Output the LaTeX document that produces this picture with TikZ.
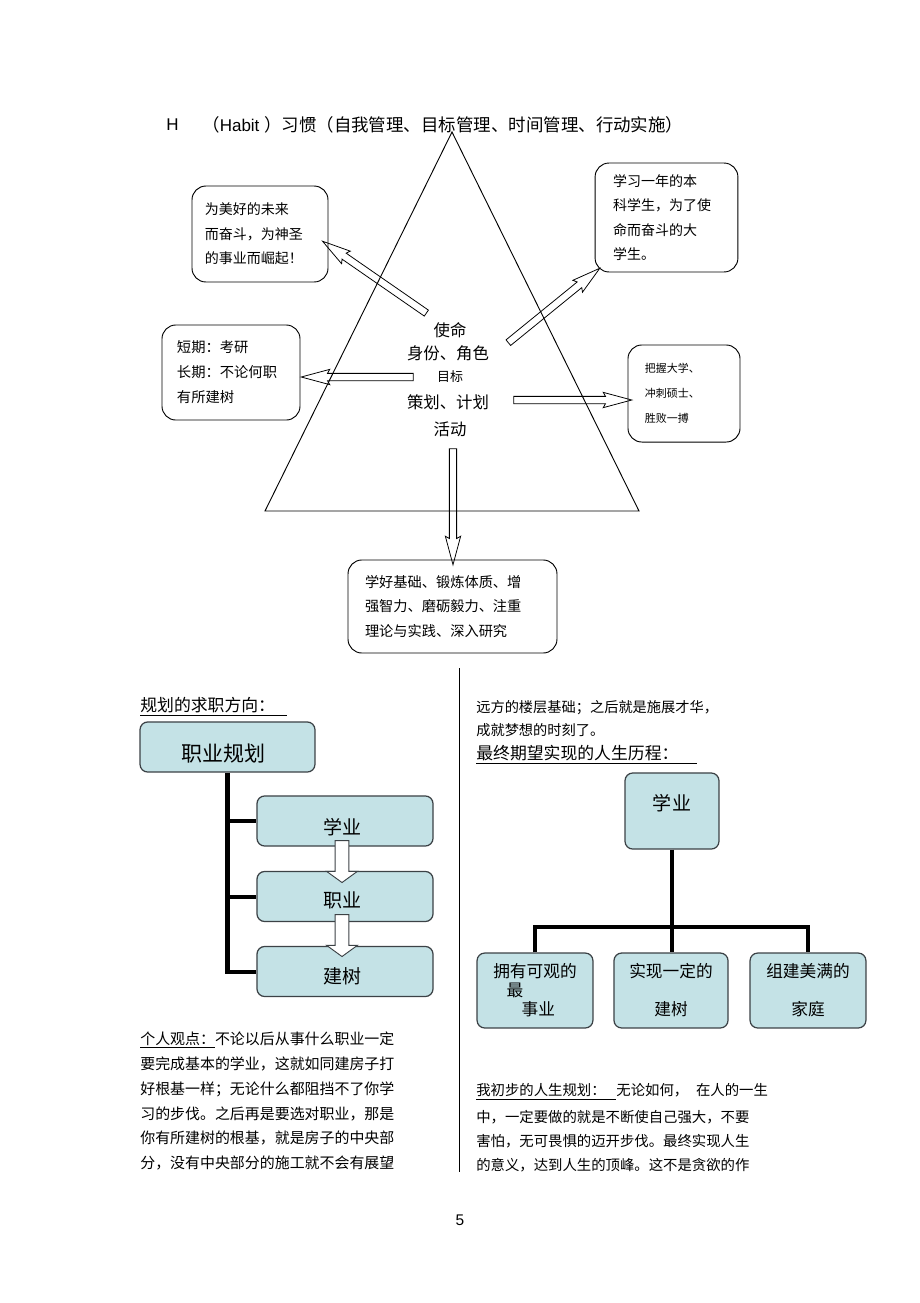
\documentclass[tikz,border=0pt]{standalone}
\usepackage{fontspec}
\setmainfont{Liberation Sans}
\newfontfamily\cjk{Noto Sans CJK SC}
\usetikzlibrary{shapes.arrows,calc,positioning}
\definecolor{planfill}{RGB}{196,226,230}
\definecolor{planedge}{RGB}{60,66,70}

\newcommand\fatarrow[3][]{%
  \path let \p1=(#2), \p2=(#3) in
    node[hollow,#1,minimum height={veclen(\x2-\x1,\y2-\y1)},
         rotate={atan2(\y2-\y1,\x2-\x1)}] at ($(#2)!0.5!(#3)$) {};}

\begin{document}
\begin{tikzpicture}[x=0.647pt,y=-0.647pt,
  bubble/.style={draw,line width=0.6pt,rounded corners=9pt,align=left,inner ysep=0pt,
                 font=\cjk\fontsize{9.06}{15.9}\selectfont},
  core/.style={inner sep=0pt,font=\cjk\fontsize{10.6}{12}\selectfont},
  hollow/.style={single arrow,draw,line width=0.5pt,inner xsep=0pt,inner ysep=2.1pt,
                 single arrow head extend=2.6pt,single arrow tip angle=30,single arrow head indent=1.5pt},
  plan/.style={draw=planedge,fill=planfill,line width=0.8pt,rounded corners=5pt},
  planfont/.style={font=\cjk\fontsize{12.3}{14}\selectfont},
  lifefont/.style={font=\cjk\fontsize{10.8}{12.3}\selectfont},
  drop/.style={draw=planedge,fill=white,line width=0.6pt,inner ysep=4.2pt,
               single arrow head extend=5.5pt,single arrow tip angle=108,single arrow head indent=0pt},
  trunk/.style={line width=2.6pt},
  txtline/.style={anchor=west,inner sep=0pt,font=\cjk\fontsize{9.67}{12}\selectfont}]
\useasboundingbox (0,0) rectangle (920,1303);

\node[anchor=west,inner sep=0pt,font=\fontsize{11}{12}\selectfont] (h) at (166,125) {H};
\node[anchor=west,inner sep=0pt,font=\fontsize{11}{12}\selectfont] (habit) at (202,125)
  {{\cjk\fontsize{11.3}{12}\selectfont （}Habit {\cjk\fontsize{11.3}{12}\selectfont ）习惯（自我管理、目标管理、时间管理、行动实施）}};

\coordinate (apex) at (452,132);
\coordinate (bl) at (265,511);
\coordinate (br) at (639,511);
\draw[line width=0.6pt] (apex) -- (bl) -- (br) -- cycle;

\node[core] (mission) at (450,330) {使命};
\node[core] (role) at (448,353) {身份、角色};
\node[core,font=\cjk\fontsize{8.4}{10}\selectfont] (goal) at (450,377) {目标};
\node[core] (scheme) at (448,402) {策划、计划};
\node[core] (act) at (450,429) {活动};

\node[bubble,inner xsep=8.4pt,text width=71.2pt,minimum height=62.1pt] (future) at (260,234)
  {为美好的未来\\而奋斗，为神圣\\的事业而崛起！};
\node[bubble,inner xsep=11.6pt,text width=69.2pt,minimum height=70.5pt] (student) at (666.5,217.5)
  {学习一年的本\\科学生，为了使\\命而奋斗的大\\学生。};
\node[bubble,inner xsep=9.7pt,text width=69.9pt,minimum height=61.5pt,
      font=\cjk\fontsize{9.25}{16.2}\selectfont] (term) at (231,372.5)
  {短期：考研\\长期：不论何职\\有所建树};
\node[bubble,inner xsep=11pt,text width=50.5pt,minimum height=62.8pt,
      font=\cjk\fontsize{7.1}{16.2}\selectfont] (strive) at (684,393.5)
  {把握大学、\\冲刺硕士、\\胜败一搏};
\node[bubble,inner xsep=11pt,text width=113.2pt,minimum height=60.2pt,
      font=\cjk\fontsize{9.2}{15.9}\selectfont] (basics) at (452.5,606.5)
  {学好基础、锻炼体质、增\\强智力、磨砺毅力、注重\\理论与实践、深入研究};

\coordinate (s1) at (432,317);
\coordinate (e1) at (328,245);
\coordinate (s2) at (503,347);
\coordinate (s3) at (420,377);
\coordinate (e3) at (308,377);
\coordinate (s4) at (507,400);
\coordinate (e4) at (625,400);
\coordinate (s5) at (453,442);
\coordinate (e5) at (453,558);
\fatarrow{s1}{e1}
\fatarrow{s2}{student.south west}
\fatarrow{s3}{e3}
\fatarrow{s4}{e4}
\fatarrow{s5}{e5}

\draw[line width=0.6pt] (459,668) -- (459,1172);

\node[txtline,font=\cjk\fontsize{10.9}{12}\selectfont] (quest) at (140,707)
  {\underline{规划的求职方向：\hspace*{8pt}}};

\node[plan,minimum width=113.2pt,minimum height=32.4pt,
      label={[font=\cjk\fontsize{13.6}{15}\selectfont,xshift=-2.6pt,yshift=-3.9pt]center:职业规划}] (career) at (227.5,747) {};
\node[plan,minimum width=113.9pt,minimum height=32.4pt,
      label={[planfont,xshift=-1.9pt,yshift=-3.9pt]center:学业}] (study) at (345,821) {};
\node[plan,minimum width=113.9pt,minimum height=32.4pt,
      label={[planfont,xshift=-1.9pt,yshift=-2.3pt]center:职业}] (job) at (345,896.5) {};
\node[plan,minimum width=113.9pt,minimum height=32.4pt,
      label={[planfont,xshift=-1.9pt,yshift=-2.9pt]center:建树}] (build) at (345,971.5) {};

\draw[trunk] (career.south) |- (build.west);
\draw[trunk] (career.south |- study.west) -- (study.west);
\draw[trunk] (career.south |- job.west) -- (job.west);

\coordinate (d1s) at (342,838);
\coordinate (d1e) at (342,880);
\coordinate (d2s) at (342,912);
\coordinate (d2e) at (342,954);
\fatarrow[drop]{d1s}{d1e}
\fatarrow[drop]{d2s}{d2e}

\node[txtline] (p1) at (140,1040) {\underline{个人观点：}不论以后从事什么职业一定};
\node[txtline] (p2) at (140,1064) {要完成基本的学业，这就如同建房子打};
\node[txtline] (p3) at (140,1089) {好根基一样；无论什么都阻挡不了你学};
\node[txtline] (p4) at (140,1114) {习的步伐。之后再是要选对职业，那是};
\node[txtline] (p5) at (140,1138) {你有所建树的根基，就是房子的中央部};
\node[txtline] (p6) at (140,1163) {分，没有中央部分的施工就不会有展望};

\node[txtline,font=\cjk\fontsize{9.2}{12}\selectfont] (q1) at (476,708) {远方的楼层基础；之后就是施展才华，};
\node[txtline,font=\cjk\fontsize{9.2}{12}\selectfont] (q2) at (476,730) {成就梦想的时刻了。};
\node[txtline,font=\cjk\fontsize{10.9}{12}\selectfont] (dream) at (476,755)
  {\underline{最终期望实现的人生历程：\hspace*{12pt}}};

\node[plan,minimum width=60.8pt,minimum height=49.2pt,
      label={[planfont,yshift=5.2pt]center:学业}] (learn) at (672,811) {};
\node[plan,lifefont,align=left,minimum width=75pt,minimum height=48.5pt] (wealth) at (535,990.5)
  {拥有可观的\\\hspace*{0.8em}最\\\hspace*{1.7em}事业};
\node[plan,lifefont,align=center,minimum width=73.8pt,minimum height=48.5pt] (achieve) at (671,990.5)
  {实现一定的\\[12.3pt]建树};
\node[plan,lifefont,align=center,minimum width=75pt,minimum height=48.5pt] (family) at (808,990.5)
  {组建美满的\\[12.3pt]家庭};

\coordinate (hub) at (672,927);
\draw[trunk] (learn.south) -- (hub);
\draw[trunk] (wealth.north) -- (wealth.north |- hub) -- (family.north |- hub) -- (family.north);
\draw[trunk] (hub) -- (hub |- achieve.north);

\node[txtline,font=\cjk\fontsize{9.3}{12}\selectfont] (r1) at (476,1092)
  {\underline{我初步的人生规划：\hspace*{7pt}}无论如何，\hspace*{5pt}在人的一生};
\node[txtline,font=\cjk\fontsize{9.3}{12}\selectfont] (r2) at (476,1117) {中，一定要做的就是不断使自己强大，不要};
\node[txtline,font=\cjk\fontsize{9.3}{12}\selectfont] (r3) at (476,1141) {害怕，无可畏惧的迈开步伐。最终实现人生};
\node[txtline,font=\cjk\fontsize{9.3}{12}\selectfont] (r4) at (476,1165) {的意义，达到人生的顶峰。这不是贪欲的作};

\node[inner sep=0pt,font=\fontsize{10}{12}\selectfont] (pageno) at (460,1220) {5};
\end{tikzpicture}
\end{document}
